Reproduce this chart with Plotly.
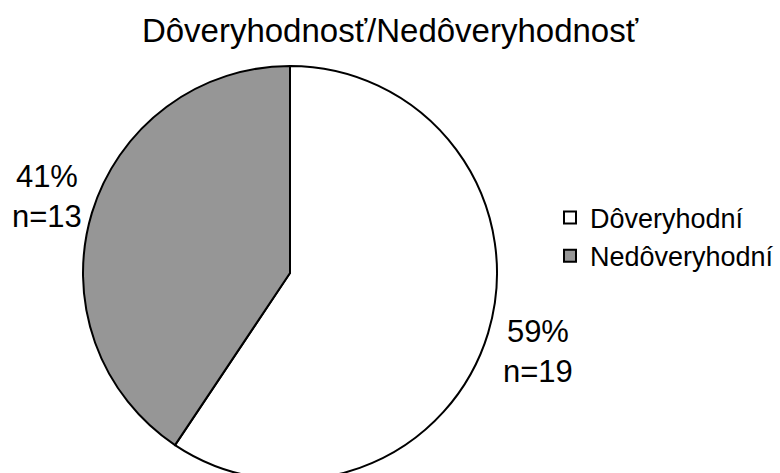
import plotly.graph_objects as go

# Trust survey: counts per group
categories = ["Dôveryhodní", "Nedôveryhodní"]
counts = [19, 13]
colors = ["#FFFFFF", "#969696"]
chart_title = "Dôveryhodnosť/Nedôveryhodnosť"

W, H = 780, 480
FONT = "Liberation Sans, Arial, sans-serif"

# pie geometry in pixels (center and radius)
cx, cy, r = 290, 273, 207

total = sum(counts)
percents = [round(100 * c / total) for c in counts]

fig = go.Figure(
    go.Pie(
        labels=categories,
        values=counts,
        sort=False,
        direction="clockwise",
        rotation=0,
        marker=dict(colors=colors, line=dict(color="#000000", width=2)),
        textinfo="none",
        hoverinfo="label+value+percent",
        domain=dict(x=[(cx - r) / W, (cx + r) / W], y=[1 - (cy + r) / H, 1 - (cy - r) / H]),
    )
)

# value labels beside each slice
label_pos = {0: (538, 351), 1: (47, 196)}
for i, (p, n) in enumerate(zip(percents, counts)):
    x, y = label_pos[i]
    fig.add_annotation(
        x=x / W, y=1 - y / H, xref="paper", yref="paper",
        text=f"{p}%<br>n={n}", showarrow=False,
        xanchor="center", yanchor="middle", align="center",
        font=dict(family=FONT, size=31, color="#000000"),
    )

fig.update_layout(
    width=W, height=H,
    margin=dict(l=0, r=0, t=0, b=0),
    paper_bgcolor="#FFFFFF",
    plot_bgcolor="#FFFFFF",
    title=dict(
        text=chart_title, x=0.5, xanchor="center",
        y=1 - 30 / H, yanchor="middle", yref="container",
        font=dict(family=FONT, size=33, color="#000000"),
    ),
    showlegend=True,
    legend=dict(
        x=550 / W, xanchor="left", y=1 - 237 / H, yanchor="middle",
        font=dict(family=FONT, size=27, color="#000000"),
        bgcolor="rgba(0,0,0,0)",
    ),
)

fig.write_html("out.html", post_script="document.body.style.overflow='hidden';document.body.style.margin='0';")
